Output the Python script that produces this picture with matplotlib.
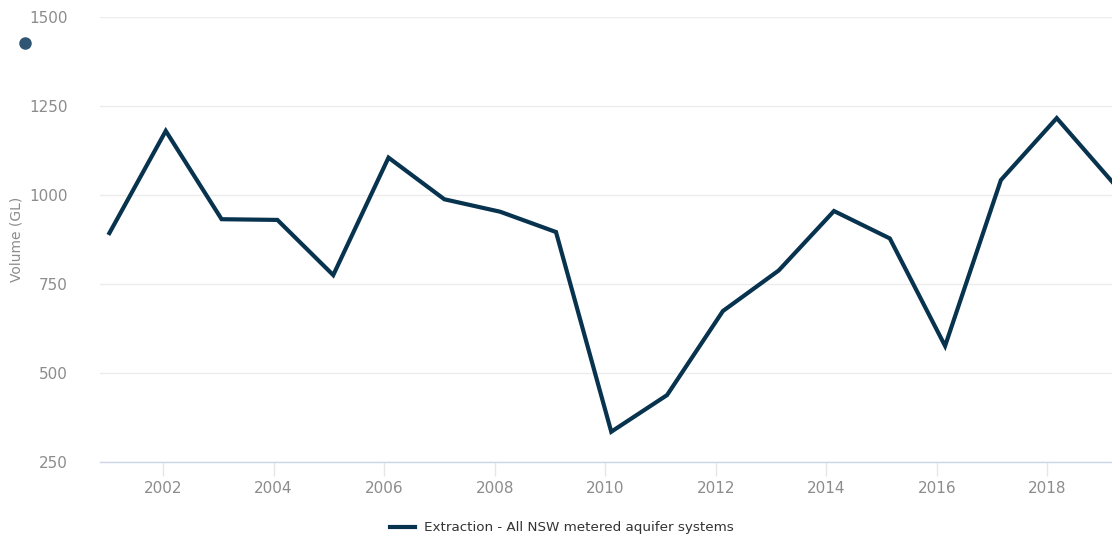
import matplotlib
matplotlib.use("Agg")
import matplotlib.pyplot as plt
from matplotlib.lines import Line2D

# decimal year of each reading, as placed on the chart's time axis
years = [2001.03, 2002.05, 2003.06, 2004.07, 2005.08, 2006.08, 2007.09, 2008.10,
         2009.11, 2010.11, 2011.12, 2012.13, 2013.14, 2014.14, 2015.15, 2016.15,
         2017.16, 2018.17, 2019.18]
extraction = [893, 1180, 932, 930, 775, 1105, 988, 953, 896, 335, 438, 674,
              788, 955, 878, 576, 1042, 1216, 1036]
series_name = "Extraction - All NSW metered aquifer systems"
y_ticks = [250, 500, 750, 1000, 1250, 1500]
x_ticks = [2002, 2004, 2006, 2008, 2010, 2012, 2014, 2016, 2018]

plt.rcParams["font.family"] = ["DejaVu Sans"]

fig = plt.figure(figsize=(11.12, 5.36), dpi=100)
ax = fig.add_axes([100 / 1112, 1 - 462 / 536, 1 - 100 / 1112, 445 / 536])

ax.plot(years, extraction, color="#07334f", linewidth=3.0, solid_joinstyle="miter",
        label=series_name)

ax.set_xlim(2000.86, 2019.17)
ax.set_ylim(250, 1500)
ax.set_yticks(y_ticks)
ax.set_xticks(x_ticks)
ax.set_xticklabels([str(y) for y in x_ticks])

ax.grid(axis="y", color="#ececec", linewidth=1)
ax.set_axisbelow(True)
for side in ["top", "right", "left"]:
    ax.spines[side].set_visible(False)
ax.spines["bottom"].set_color("#ccd6eb")
ax.spines["bottom"].set_linewidth(1)

ax.tick_params(axis="y", length=0, pad=23, labelsize=11, labelcolor="#8c8c8c")
ax.tick_params(axis="x", length=10, width=1, color="#e6e6e6", pad=4,
               labelsize=11, labelcolor="#8c8c8c")

ax.set_ylabel("Volume (GL)", fontsize=10, color="#8c8c8c")
ax.yaxis.set_label_coords(-76 / 1012, 0.5)

fig.legend(handles=[Line2D([0], [0], color="#07334f", linewidth=3.0)],
           labels=[series_name], loc="center", bbox_to_anchor=(0.505, 1 - 528 / 536),
           frameon=False, fontsize=9.7, handlelength=1.9, handletextpad=0.6,
           labelcolor="#333333")

# small marker dot at top-left of the chart
fig.add_artist(Line2D([25 / 1112], [1 - 43 / 536], marker="o", markersize=8,
                      color="#2f5674", linestyle="none"))

fig.savefig("out.png", dpi=100)
